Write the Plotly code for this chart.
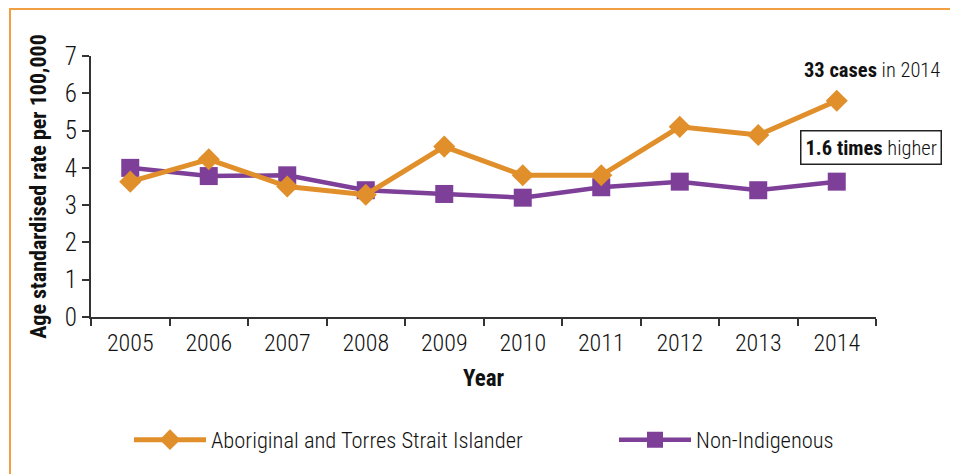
import plotly.graph_objects as go

years = ["2005", "2006", "2007", "2008", "2009", "2010", "2011", "2012", "2013", "2014"]
aboriginal = [3.63, 4.23, 3.5, 3.28, 4.57, 3.8, 3.8, 5.1, 4.88, 5.8]
non_indigenous = [4.0, 3.78, 3.8, 3.4, 3.3, 3.2, 3.48, 3.63, 3.4, 3.63]
y_ticks = [0, 1, 2, 3, 4, 5, 6, 7]

ORANGE = "#E08F2A"
PURPLE = "#7D3F98"
FONT = "Roboto Condensed, Liberation Sans Narrow, sans-serif"

# page body has an 8px margin; positions below are given in window pixels
OFF = 8
W, H = 958, 474
L = 91 - OFF
T = 56 - OFF
R = W - (876 - OFF)
B = H - (317 - OFF)
pw, ph = W - L - R, H - T - B

def px(x):
    return (x - OFF - L) / pw

def py(y):
    return (H - B - (y - OFF)) / ph

fig = go.Figure()
fig.add_trace(go.Scatter(
    x=years, y=non_indigenous, name="Non-Indigenous", mode="lines+markers",
    line=dict(color=PURPLE, width=4.5),
    marker=dict(symbol="square", size=18, color=PURPLE),
    legend="legend2",
))
fig.add_trace(go.Scatter(
    x=years, y=aboriginal, name="Aboriginal and Torres Strait Islander", mode="lines+markers",
    line=dict(color=ORANGE, width=5),
    marker=dict(symbol="diamond", size=17, color=ORANGE),
    legend="legend",
))

fig.update_layout(
    width=W, height=H,
    margin=dict(l=L, r=R, t=T, b=B),
    paper_bgcolor="white", plot_bgcolor="white",
    font=dict(family=FONT, size=22, color="#111", weight=300),
    showlegend=True,
    legend=dict(
        orientation="h", x=px(129), y=py(440), yanchor="middle", xanchor="left",
        font=dict(size=22.5, weight=300), itemwidth=72, bgcolor="rgba(0,0,0,0)",
    ),
    legend2=dict(
        orientation="h", x=px(614), y=py(440), yanchor="middle", xanchor="left",
        font=dict(size=22.5, weight=300), itemwidth=72, bgcolor="rgba(0,0,0,0)",
    ),
    xaxis=dict(
        type="category", range=[-0.5, 9.5], automargin=False,
        showline=True, linecolor="#333", linewidth=2,
        ticks="outside", tickson="boundaries", ticklen=7, tickcolor="#333", tickwidth=2,
        showgrid=False, zeroline=False, ticklabelstandoff=3,
        tickfont=dict(size=24, weight=300),
        title=dict(text="<b>Year</b>", font=dict(size=23, weight=400), standoff=14),
    ),
    yaxis=dict(
        range=[0, 7], tickvals=y_ticks, automargin=False,
        showline=True, linecolor="#333", linewidth=2,
        ticks="outside", ticklen=7, tickcolor="#333", tickwidth=2,
        showgrid=False, zeroline=False,
        tickfont=dict(size=25, weight=300),
        title=dict(text="<b>Age standardised rate per 100,000</b>", font=dict(size=22, weight=400), standoff=12),
    ),
    shapes=[dict(
        type="rect", xref="paper", yref="paper",
        x0=px(10), x1=px(952), y0=py(500), y1=py(9),
        line=dict(color="#F0A040", width=2), fillcolor="rgba(0,0,0,0)", layer="below",
    )],
    annotations=[
        dict(
            xref="paper", yref="paper", x=px(942), y=py(70), xanchor="right", yanchor="middle",
            text="<b>33 cases</b> in 2014", showarrow=False, font=dict(size=20.5, weight=300),
        ),
        dict(
            xref="paper", yref="paper", x=px(942), y=py(147), xanchor="right", yanchor="middle",
            text="<b>1.6 times</b> higher", showarrow=False, font=dict(size=20.5, weight=300),
            bordercolor="#222", borderwidth=1.5, borderpad=4, bgcolor="white",
        ),
    ],
)

fig.write_html("out.html")
